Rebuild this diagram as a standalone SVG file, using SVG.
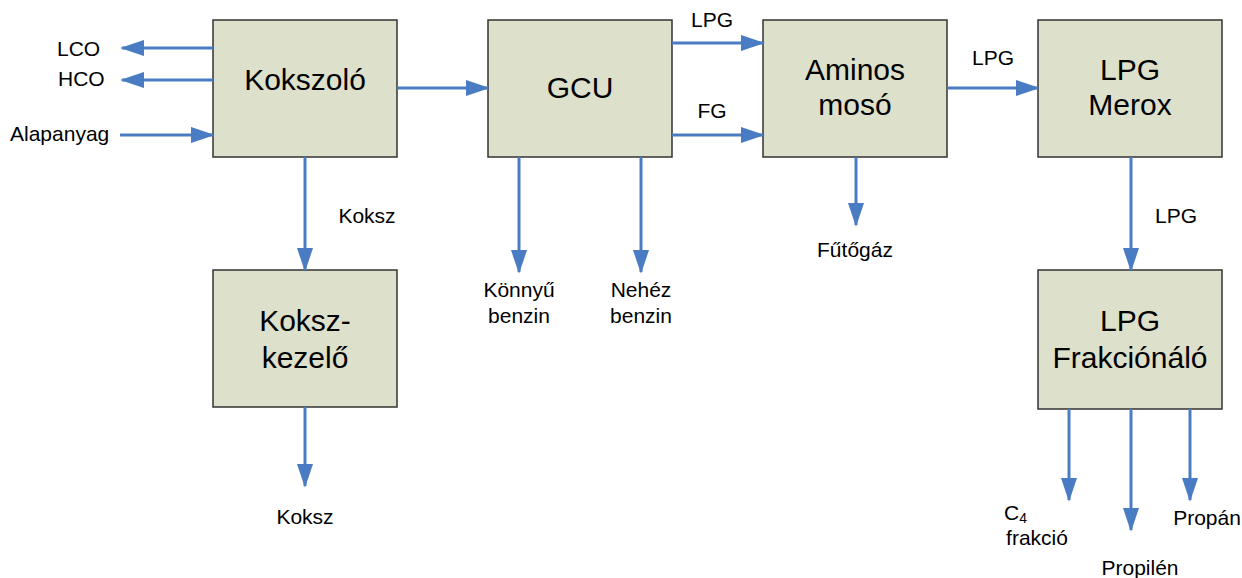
<svg xmlns="http://www.w3.org/2000/svg" width="1242" height="578" viewBox="0 0 1242 578">
  <style>
    .box { fill: #dde0cb; stroke: #333333; stroke-width: 1.5; }
    .big { font-family: "Liberation Sans", Arial, sans-serif; font-size: 30px; fill: #000; text-anchor: middle; }
    .lbl { font-family: "Liberation Sans", Arial, sans-serif; font-size: 21px; fill: #000; }
    .mid { text-anchor: middle; }
    .flow { stroke: #4a7cc4; stroke-width: 3; fill: none; marker-end: url(#head); }
  </style>
  <defs>
    <marker id="head" markerWidth="8" markerHeight="5.4" refX="7.4" refY="2.7" orient="auto" markerUnits="strokeWidth">
      <path d="M0,0 L8,2.7 L0,5.4 Z" fill="#4a7cc4"/>
    </marker>
  </defs>

  <!-- process units -->
  <g id="kokszolo">
    <rect class="box" x="213" y="20" width="184" height="137"/>
    <text class="big" x="305" y="90">Kokszoló</text>
  </g>
  <g id="gcu">
    <rect class="box" x="488" y="20" width="184" height="137"/>
    <text class="big" x="580" y="98">GCU</text>
  </g>
  <g id="aminos">
    <rect class="box" x="763" y="20" width="184" height="137"/>
    <text class="big" x="855" y="80">Aminos</text>
    <text class="big" x="855" y="115">mosó</text>
  </g>
  <g id="merox">
    <rect class="box" x="1038" y="20" width="184" height="137"/>
    <text class="big" x="1130" y="80">LPG</text>
    <text class="big" x="1130" y="115">Merox</text>
  </g>
  <g id="kokszkezelo">
    <rect class="box" x="213" y="270" width="184" height="137"/>
    <text class="big" x="305" y="331">Koksz-</text>
    <text class="big" x="305" y="368">kezelő</text>
  </g>
  <g id="frakcionalo">
    <rect class="box" x="1038" y="270" width="184" height="139"/>
    <text class="big" x="1130" y="331">LPG</text>
    <text class="big" x="1130" y="368">Frakciónáló</text>
  </g>

  <!-- streams -->
  <g id="connectors">
    <line class="flow" x1="213" y1="48" x2="122" y2="48"/>
    <line class="flow" x1="213" y1="80" x2="122" y2="80"/>
    <line class="flow" x1="120" y1="135" x2="213" y2="135"/>
    <line class="flow" x1="397" y1="88" x2="488" y2="88"/>
    <line class="flow" x1="672" y1="43" x2="763" y2="43"/>
    <line class="flow" x1="672" y1="135" x2="763" y2="135"/>
    <line class="flow" x1="947" y1="88" x2="1038" y2="88"/>
    <line class="flow" x1="305" y1="157" x2="305" y2="270"/>
    <line class="flow" x1="305" y1="407" x2="305" y2="486"/>
    <line class="flow" x1="519" y1="157" x2="519" y2="272"/>
    <line class="flow" x1="641" y1="157" x2="641" y2="272"/>
    <line class="flow" x1="856" y1="157" x2="856" y2="225"/>
    <line class="flow" x1="1131" y1="157" x2="1131" y2="270"/>
    <line class="flow" x1="1069" y1="409" x2="1069" y2="500"/>
    <line class="flow" x1="1131" y1="409" x2="1131" y2="530"/>
    <line class="flow" x1="1190" y1="409" x2="1190" y2="500"/>
  </g>

  <!-- stream labels -->
  <g id="labels">
    <text class="lbl" x="57" y="56">LCO</text>
    <text class="lbl" x="58" y="86">HCO</text>
    <text class="lbl" x="10" y="141">Alapanyag</text>
    <text class="lbl mid" x="712" y="27">LPG</text>
    <text class="lbl mid" x="712" y="118">FG</text>
    <text class="lbl mid" x="993" y="65">LPG</text>
    <text class="lbl mid" x="367" y="223">Koksz</text>
    <text class="lbl mid" x="1176" y="223">LPG</text>
    <text class="lbl mid" x="855" y="257">Fűtőgáz</text>
    <text class="lbl mid" x="519" y="297">Könnyű</text>
    <text class="lbl mid" x="519" y="323">benzin</text>
    <text class="lbl mid" x="641" y="297">Nehéz</text>
    <text class="lbl mid" x="641" y="323">benzin</text>
    <text class="lbl mid" x="305" y="524">Koksz</text>
    <text class="lbl" x="1004" y="520">C<tspan font-size="14" dy="3">4</tspan></text>
    <text class="lbl mid" x="1037" y="545">frakció</text>
    <text class="lbl mid" x="1140" y="575">Propilén</text>
    <text class="lbl mid" x="1207" y="525">Propán</text>
  </g>
</svg>
